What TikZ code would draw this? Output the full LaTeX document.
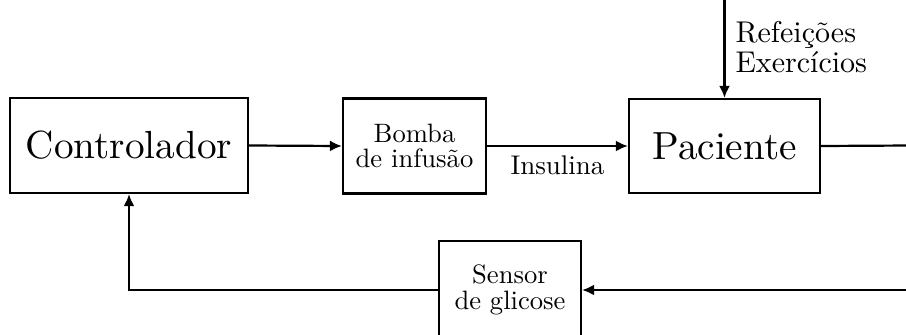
\documentclass[tikz,border=0pt]{standalone}
\usepackage{fontspec}
\setmainfont{lmroman10-regular}[Extension=.otf]
\usetikzlibrary{arrows.meta}
\begin{document}
\begin{tikzpicture}[x=1pt,y=-1pt,
  blk/.style={draw,line width=2.2pt,inner sep=0pt,align=center},
  bigtxt/.style={font=\fontsize{39.2}{42}\selectfont},
  smalltxt/.style={font=\fontsize{26.6}{25.5}\selectfont},
  conn/.style={line width=2.2pt},
  arr/.style={conn,-{Latex[length=12pt,width=11pt]}}]
\clip (0,0) rectangle (906,335);
\useasboundingbox (0,0) rectangle (906,335);
\node[blk,bigtxt,minimum width=238pt,minimum height=95pt] (ctrl) at (129,145.5) {Controlador};
\node[blk,smalltxt,minimum width=143pt,minimum height=95pt] (pump) at (414.5,146) {Bomba\\de infusão};
\node[blk,bigtxt,minimum width=191pt,minimum height=94pt] (pat) at (724.5,146) {Paciente};
\node[blk,smalltxt,minimum width=142pt,minimum height=98pt] (sens) at (510,290) {Sensor\\de glicose};
\coordinate (top) at (724.5,0);
\coordinate (outR) at (910,145.5);
\coordinate (inR) at (910,290);
\draw[arr] (ctrl.east) -- (pump.west);
\draw[arr] (pump.east) -- (pat.west) node[midway,below=5pt,font=\fontsize{27}{30}\selectfont] (ins) {Insulina};
\draw[arr] (top) -- (pat.north);
\node[anchor=west,align=left,font=\fontsize{30}{30}\selectfont] (dist) at (732,47) {Refeições\\Exercícios};
\draw[conn] (pat.east) -- (outR);
\draw[arr] (inR) -- (sens.east);
\draw[arr] (sens.west) -| (ctrl.south);
\end{tikzpicture}
\end{document}
